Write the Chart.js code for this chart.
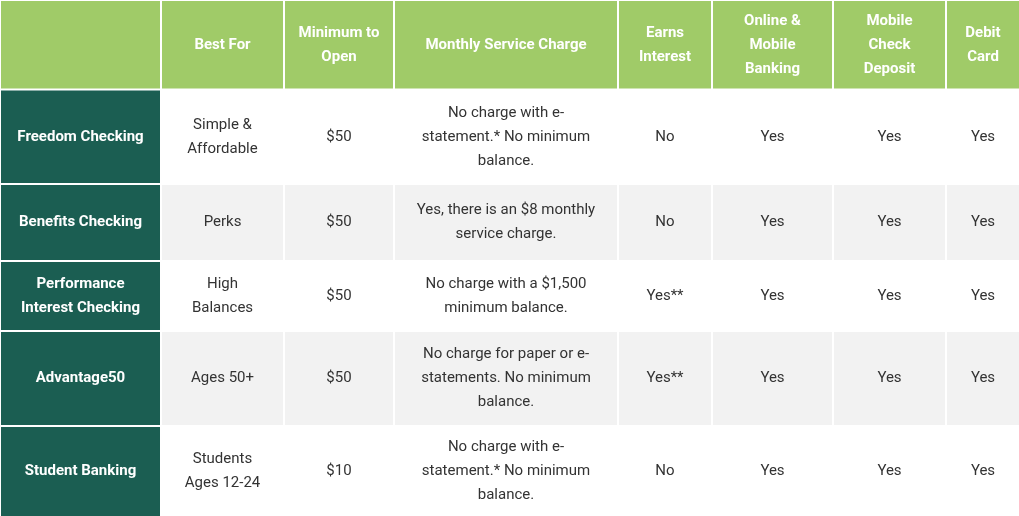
<!DOCTYPE html>
<html><head><meta charset="utf-8">
<script src="https://cdn.jsdelivr.net/npm/chart.js@4"></script>
<style>html,body{margin:0;padding:0;background:#fff}#wrap{width:1019px;height:516px}</style>
</head><body><div id="wrap"><canvas id="tbl"></canvas></div>
<script>
const headers = ["", "Best For", "Minimum to\nOpen", "Monthly Service Charge", "Earns\nInterest", "Online &\nMobile\nBanking", "Mobile\nCheck\nDeposit", "Debit\nCard"];
const accounts = ["Freedom Checking", "Benefits Checking", "Performance\nInterest Checking", "Advantage50", "Student Banking"];
const bestFor = ["Simple &\nAffordable", "Perks", "High\nBalances", "Ages 50+", "Students\nAges 12-24"];
const minOpen = ["$50", "$50", "$50", "$50", "$10"];
const serviceCharge = [
  "No charge with e-\nstatement.* No minimum\nbalance.",
  "Yes, there is an $8 monthly\nservice charge.",
  "No charge with a $1,500\nminimum balance.",
  "No charge for paper or e-\nstatements. No minimum\nbalance.",
  "No charge with e-\nstatement.* No minimum\nbalance."
];
const earnsInterest = ["No", "No", "Yes**", "Yes**", "No"];
const onlineBanking = ["Yes", "Yes", "Yes", "Yes", "Yes"];
const checkDeposit = ["Yes", "Yes", "Yes", "Yes", "Yes"];
const debitCard = ["Yes", "Yes", "Yes", "Yes", "Yes"];
const colEdges = [0, 161, 284, 394, 618, 712, 833, 946, 1020];
const rowEdges = [0, 89.5, 184, 261, 331, 426, 517];

const columns = [accounts, bestFor, minOpen, serviceCharge, earnsInterest, onlineBanking, checkDeposit, debitCard];

const tablePlugin = {
  id: "tablePlugin",
  afterDraw(chart) {
    const ctx = chart.ctx, x = chart.scales.x, y = chart.scales.y;
    const gap = 1;
    ctx.save();
    for (let r = 0; r < rowEdges.length - 1; r++) {
      for (let c = 0; c < colEdges.length - 1; c++) {
        const x0 = x.getPixelForValue(colEdges[c]), x1 = x.getPixelForValue(colEdges[c + 1]);
        const y0 = y.getPixelForValue(rowEdges[r]), y1 = y.getPixelForValue(rowEdges[r + 1]);
        let fill, color, bold;
        if (r === 0) { fill = "#a0cb68"; color = "#ffffff"; bold = true; }
        else if (c === 0) { fill = "#1b5e52"; color = "#ffffff"; bold = true; }
        else { fill = r % 2 === 0 ? "#f2f2f2" : "#ffffff"; color = "#333333"; bold = false; }
        ctx.fillStyle = fill;
        ctx.fillRect(x0 + gap, y0 + gap, x1 - x0 - 2 * gap, y1 - y0 - 2 * gap);
        const text = r === 0 ? headers[c] : columns[c][r - 1];
        if (!text) continue;
        const lines = text.split("\n");
        ctx.fillStyle = color;
        ctx.font = (bold ? "bold " : "") + "15px Roboto";
        ctx.textAlign = "center";
        ctx.textBaseline = "middle";
        const lh = 24, cy = (y0 + y1) / 2, cx = (x0 + x1) / 2;
        lines.forEach((ln, i) => ctx.fillText(ln, cx, cy + (i - (lines.length - 1) / 2) * lh));
      }
    }
    ctx.restore();
  }
};

new Chart(document.getElementById("tbl"), {
  type: "scatter",
  data: { datasets: [{ data: [] }] },
  options: {
    responsive: true,
    maintainAspectRatio: false,
    animation: false,
    layout: { padding: 0 },
    plugins: { legend: { display: false }, tooltip: { enabled: false } },
    scales: {
      x: { type: "linear", min: 0, max: 1019, display: false },
      y: { type: "linear", min: 0, max: 516, reverse: true, display: false }
    }
  },
  plugins: [tablePlugin]
});
</script></body></html>
